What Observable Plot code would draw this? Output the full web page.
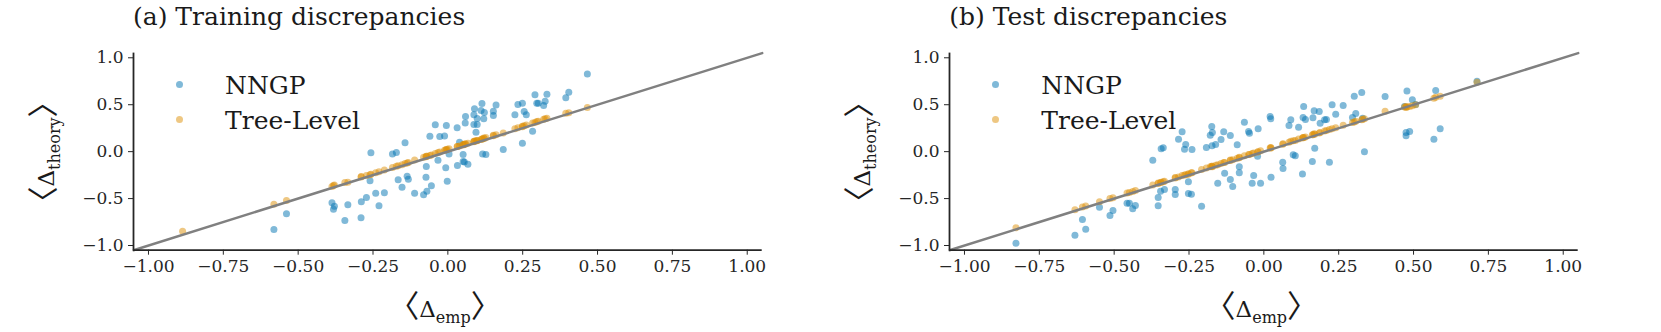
<!DOCTYPE html>
<html><head><meta charset="utf-8">
<script src="https://cdn.jsdelivr.net/npm/d3@7"></script>
<script src="https://cdn.jsdelivr.net/npm/@observablehq/plot@0.6"></script>
<style>
body{margin:0;background:#fff;}
#wrap{position:relative;width:1661px;height:332px;overflow:hidden;font-family:"DejaVu Serif",serif;color:#1a1a1a}
.panel{position:absolute;top:0;width:800px;height:332px}
.title{position:absolute;left:133px;top:5px;font-size:25px;line-height:24px;white-space:nowrap}
.plot{position:absolute;left:0;top:40px}
.plot svg text{font-family:"DejaVu Serif",serif !important;}
.leg{position:absolute;left:225px;font-size:25px;line-height:24px;white-space:nowrap}
.sw{position:absolute;left:176px;width:7px;height:7px;border-radius:50%}
.lab{position:absolute;white-space:nowrap;font-size:23px;line-height:30px}
.lab .br{font-size:31px;font-family:"Noto Sans CJK JP",sans-serif;font-feature-settings:"halt" 1;}
.lab sub{font-size:16px;vertical-align:-6px}
</style>
</head><body>
<div id="wrap"></div>
<script>
// ---- data ----
const titles = ["(a) Training discrepancies", "(b) Test discrepancies"];
const seriesNames = ["NNGP", "Tree-Level"];
const xTicks = [-1, -0.75, -0.5, -0.25, 0, 0.25, 0.5, 0.75, 1];
const yTicks = [-1, -0.5, 0, 0.5, 1];
const limits = [-1.05, 1.05];

// Panel (a): training
const empA = [-0.581,-0.539,-0.387,-0.382,-0.379,-0.344,-0.334,-0.290,-0.289,-0.272,-0.257,-0.260,-0.241,-0.230,-0.212,-0.185,-0.172,-0.143,-0.166,-0.153,-0.136,-0.132,-0.111,-0.081,-0.070,-0.055,-0.073,-0.072,-0.033,-0.007,-0.002,-0.060,-0.042,-0.027,-0.011,-0.005,0.004,0.031,0.039,0.032,0.051,0.055,0.067,0.051,0.058,0.059,0.089,0.087,0.098,0.087,0.098,0.094,0.114,0.111,0.122,0.120,0.116,0.127,0.152,0.152,0.161,0.185,0.224,0.234,0.249,0.255,0.262,0.249,0.283,0.291,0.297,0.302,0.320,0.325,0.331,0.394,0.404,0.466,-0.886];
const nngpA = [-0.830,-0.662,-0.545,-0.613,-0.581,-0.734,-0.567,-0.705,-0.535,-0.489,-0.013,-0.311,-0.442,-0.577,-0.439,-0.024,-0.009,0.094,-0.300,-0.379,-0.261,-0.293,-0.442,-0.460,-0.421,-0.364,-0.272,-0.158,-0.091,-0.172,-0.315,0.165,0.286,0.161,0.168,0.279,-0.024,0.254,0.101,-0.148,-0.105,-0.110,-0.133,-0.030,0.304,0.375,0.456,0.392,0.353,0.289,0.289,0.208,0.513,0.438,0.417,0.350,-0.024,-0.030,0.431,0.385,0.498,0.023,0.392,0.502,0.516,0.428,0.392,0.090,0.218,0.605,0.516,0.516,0.492,0.538,0.612,0.574,0.634,0.826,null];
const treeA = [-0.56,-0.52,-0.37,-0.36,-0.355,-0.33,-0.325,-0.27,-0.265,-0.255,-0.24,-0.245,-0.225,-0.215,-0.195,-0.17,-0.155,-0.125,-0.15,-0.14,-0.12,-0.115,-0.09,-0.06,-0.05,-0.035,-0.055,-0.05,-0.01,0.02,0.025,-0.04,-0.02,-0.005,0.015,0.02,0.03,0.055,0.06,0.055,0.075,0.08,0.09,0.07,0.08,0.085,0.11,0.11,0.12,0.105,0.115,0.115,0.135,0.13,0.14,0.145,0.135,0.15,0.17,0.175,0.18,0.2,0.245,0.255,0.27,0.275,0.285,0.265,0.305,0.31,0.32,0.325,0.345,0.35,0.355,0.41,0.415,0.47,-0.848];

// Panel (b): test
const empB = [-0.828,-0.631,-0.606,-0.595,-0.549,-0.514,-0.504,-0.457,-0.449,-0.438,-0.429,-0.371,-0.353,-0.353,-0.345,-0.343,-0.336,-0.332,-0.296,-0.296,-0.285,-0.273,-0.265,-0.261,-0.252,-0.252,-0.242,-0.240,-0.208,-0.192,-0.179,-0.174,-0.172,-0.173,-0.161,-0.154,-0.143,-0.134,-0.131,-0.112,-0.112,-0.104,-0.089,-0.082,-0.082,-0.065,-0.051,-0.048,-0.019,-0.021,-0.034,-0.039,-0.011,0.021,0.023,0.024,0.063,0.064,0.084,0.090,0.098,0.105,0.116,0.129,0.133,0.131,0.139,0.162,0.170,0.168,0.185,0.188,0.203,0.164,0.209,0.228,0.240,0.265,0.302,0.327,0.307,0.296,0.336,0.219,0.405,0.478,0.496,0.507,0.574,0.712,0.475,0.475,0.487,0.568,0.589,0.470,0.330];
const nngpB = [-0.975,-0.890,-0.723,-0.826,-0.592,-0.680,-0.627,-0.549,-0.549,-0.609,-0.574,-0.091,-0.489,-0.577,-0.421,0.030,0.041,-0.403,-0.403,-0.457,0.133,0.211,0.026,0.076,-0.321,-0.446,-0.453,0.023,-0.581,0.044,0.176,0.268,0.204,0.062,0.076,-0.336,0.129,0.211,-0.230,0.172,-0.297,-0.371,0.073,-0.161,-0.226,0.314,0.215,0.197,0.243,-0.048,-0.254,-0.336,-0.336,0.375,0.350,-0.272,-0.112,-0.180,0.279,0.339,-0.034,-0.045,0.261,-0.237,0.481,0.364,0.343,-0.105,0.037,0.435,0.428,0.303,0.339,0.360,0.343,0.499,0.399,0.492,0.591,0.630,0.407,0.364,-0.002,-0.112,0.588,0.645,0.552,0.502,0.652,0.751,0.204,0.169,0.215,0.133,0.243,0.480,0.355];
const treeB = [-0.812,-0.62,-0.59,-0.58,-0.535,-0.50,-0.49,-0.44,-0.435,-0.425,-0.415,-0.355,-0.34,-0.335,-0.33,-0.325,-0.32,-0.315,-0.28,-0.275,-0.27,-0.255,-0.25,-0.245,-0.235,-0.24,-0.225,-0.225,-0.19,-0.175,-0.16,-0.155,-0.16,-0.155,-0.145,-0.14,-0.125,-0.115,-0.115,-0.095,-0.09,-0.085,-0.07,-0.065,-0.06,-0.045,-0.03,-0.03,0.0,-0.005,-0.015,-0.02,0.01,0.04,0.045,0.04,0.08,0.085,0.10,0.11,0.115,0.12,0.135,0.145,0.15,0.15,0.155,0.18,0.185,0.19,0.2,0.205,0.22,0.18,0.225,0.245,0.255,0.28,0.315,0.34,0.325,0.31,0.35,0.235,0.43,0.475,0.49,0.50,0.58,0.74,0.47,0.48,0.48,0.57,0.59,0.475,0.345];

const colors = ["#0173b2", "#de8f05"];

// ---- drawing ----
const wrap = document.getElementById("wrap");
const fmtX = d3.format(".2f"), fmtY = d3.format(".1f");

function makePlot(emp, nngp, tree) {
  const rows = emp.map((x, i) => ({x, nngp: nngp[i], tree: tree[i]}));
  return Plot.plot({
    width: 800, height: 292,
    marginLeft: 133, marginRight: 38.3, marginTop: 12.6, marginBottom: 82.3,
    style: {fontFamily: "'DejaVu Serif', serif", fontSize: "17px", color: "#262626", background: "transparent", overflow: "visible"},
    x: {domain: limits, ticks: xTicks, tickFormat: fmtX, tickSize: 5, tickPadding: 5, label: null},
    y: {domain: limits, ticks: yTicks, tickFormat: fmtY, tickSize: 5, tickPadding: 5, label: null},
    marks: [
      Plot.dot(rows.filter(d => d.nngp != null), {x: "x", y: "nngp", r: 3.5, fill: colors[0], fillOpacity: 0.5}),
      Plot.dot(rows.filter(d => d.tree != null), {x: "x", y: "tree", r: 3.5, fill: colors[1], fillOpacity: 0.5}),
      Plot.line(limits.map(v => ({v})), {x: "v", y: "v", stroke: "#808080", strokeWidth: 2.5}),
      Plot.ruleX([limits[0]], {stroke: "#262626", strokeWidth: 1.8}),
      Plot.ruleY([limits[0]], {stroke: "#262626", strokeWidth: 1.8})
    ]
  });
}

const labelHTML = sub => '<span class="br">〈</span>Δ<sub>' + sub + '</sub><span class="br">〉</span>';

const panels = [[empA, nngpA, treeA], [empB, nngpB, treeB]];
const lefts = [0, 816.3];
panels.forEach((p, k) => {
  const div = document.createElement("div");
  div.className = "panel";
  div.style.left = lefts[k] + "px";
  const t = document.createElement("div");
  t.className = "title"; t.textContent = titles[k];
  div.appendChild(t);
  const pl = document.createElement("div");
  pl.className = "plot";
  pl.appendChild(makePlot(...p));
  div.appendChild(pl);
  // legend
  seriesNames.forEach((name, i) => {
    const sw = document.createElement("div");
    sw.className = "sw";
    sw.style.top = (80.5 + 35 * i) + "px";
    sw.style.background = colors[i];
    sw.style.opacity = 0.5;
    div.appendChild(sw);
    const lt = document.createElement("div");
    lt.className = "leg";
    lt.style.top = (74 + 35 * i) + "px";
    lt.textContent = name;
    div.appendChild(lt);
  });
  // axis labels
  const xl = document.createElement("div");
  xl.className = "lab";
  xl.style.left = "445px"; xl.style.top = "289px";
  xl.style.transform = "translateX(-50%)";
  xl.innerHTML = labelHTML("emp");
  div.appendChild(xl);
  const yl = document.createElement("div");
  yl.className = "lab";
  yl.style.left = "48px"; yl.style.top = "152px";
  yl.style.transform = "translate(-50%,-50%) rotate(-90deg)";
  yl.innerHTML = labelHTML("theory");
  div.appendChild(yl);
  wrap.appendChild(div);
});
</script>
</body></html>
